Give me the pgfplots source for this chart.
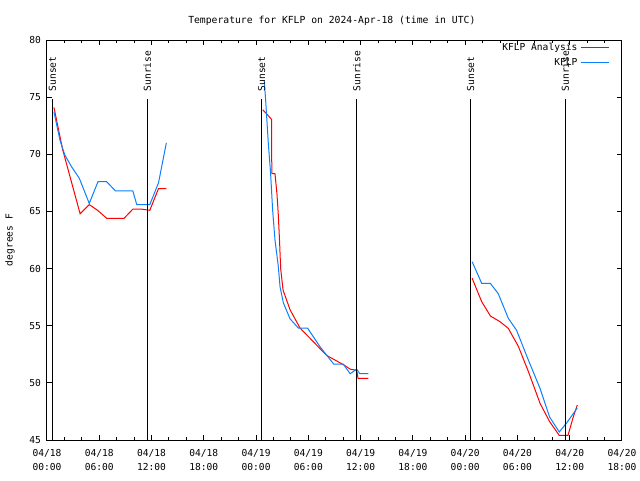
\documentclass[border=0pt]{standalone}
\usepackage{pgfplots}
\pgfplotsset{compat=1.18}
\usepackage{fontspec}
\setmainfont{DejaVu Sans Mono}
\definecolor{gred}{RGB}{255,0,0}
\definecolor{gblue}{RGB}{10,128,255}
\begin{document}
\begin{tikzpicture}
\useasboundingbox (0,0) rectangle (480pt,360pt);
\begin{axis}[
  at={(35.25pt,30pt)}, anchor=south west,
  scale only axis, width=431.25pt, height=300pt,
  xmin=0, xmax=66, ymin=45, ymax=80,
  font=\fontsize{7.2}{10.5}\selectfont,
  /pgf/number format/assume math mode=true,
  axis line style={line width=0.75pt},
  every tick/.style={black, line width=0.75pt},
  tick align=inside,
  major tick length=4pt, minor tick length=2.2pt,
  xtick={0,6,...,66},
  minor xtick={2,4,8,10,14,16,20,22,26,28,32,34,38,40,44,46,50,52,56,58,62,64},
  xticklabels={04/18\\00:00,04/18\\06:00,04/18\\12:00,04/18\\18:00,04/19\\00:00,04/19\\06:00,04/19\\12:00,04/19\\18:00,04/20\\00:00,04/20\\06:00,04/20\\12:00,04/20\\18:00},
  xticklabel style={align=center, font=\fontsize{7.2}{10.5}\selectfont, yshift=-3.5pt},
  ytick={45,50,...,80},
  yticklabel style={xshift=-1pt},
  title={Temperature for KFLP on 2024-Apr-18 (time in UTC)},
  title style={at={(0.5,1)}, anchor=south, yshift=1.5pt, xshift=-2pt, font=\fontsize{7.3}{10.5}\selectfont},
  ylabel={degrees F},
  every axis y label/.style={at={(rel axis cs:0,0.5)}, xshift=-27.75pt, rotate=90, anchor=center},
  unbounded coords=jump,
  legend style={at={(rel axis cs:0.978,1.0)}, anchor=north east, draw=none, fill=none,
    inner sep=0pt, row sep=0.5pt, font=\fontsize{7.2}{10.5}\selectfont},
  legend cell align=right,
  legend plot pos=right,
  legend image code/.code={\draw[#1] (0pt,0pt) -- (21pt,0pt);},
]
\addplot[gred, line width=0.75pt] coordinates {
(0.8,74.1) (1.8,70.4) (2.8,67.6) (3.8,64.8) (4.85,65.6) (5.8,65.1) (6.85,64.4) (7.85,64.4) (8.85,64.4) (9.85,65.2) (10.85,65.2) (11.8,65.1) (12.8,67.0) (13.7,67.0)
(14,nan)
(24.76,73.9) (25.79,73.05) (25.8,68.3) (26.17,68.3) (26.4,66.5) (26.55,64.7) (26.7,62.3) (26.82,60.0) (27.1,58.1) (27.9,56.4) (29.04,54.8) (30.38,53.75) (32.1,52.4) (34.0,51.6) (34.8,51.2) (35.55,51.1) (35.7,50.4) (36.9,50.4)
(37,nan)
(48.8,59.15) (49.9,57.1) (50.9,55.85) (52.0,55.35) (52.95,54.77) (54.1,53.2) (55.25,51.0) (56.6,48.2) (57.7,46.6) (58.8,45.4) (59.8,45.4) (60.4,47.0) (60.87,48.06)
};
\addlegendentry{KFLP Analysis}
\addplot[gblue, line width=0.75pt] coordinates {
(0.8,73.7) (1.5,71.2) (2.07,69.9) (2.83,68.9) (3.71,67.9) (4.85,65.7) (5.85,67.6) (6.85,67.6) (7.85,66.8) (8.85,66.8) (9.85,66.8) (10.3,65.6) (11.8,65.6) (12.8,67.5) (13.7,71.0)
(14,nan)
(24.95,76.3) (25.1,74.7) (25.4,71.0) (25.67,68.3) (25.9,65.1) (26.17,62.5) (26.55,60.2) (26.75,58.4) (27.13,57.0) (27.9,55.6) (28.85,54.8) (29.9,54.8) (31.3,53.2) (32.9,51.65) (34.0,51.65) (34.8,50.8) (35.55,51.2) (35.9,50.8) (36.9,50.8)
(37,nan)
(48.8,60.6) (49.9,58.7) (50.9,58.7) (51.8,57.8) (52.95,55.65) (53.9,54.6) (55.25,52.0) (56.6,49.5) (57.7,47.0) (58.8,45.7) (59.65,46.5) (60.87,47.8)
};
\addlegendentry{KFLP}
\addplot[black, line width=0.75pt, forget plot] coordinates {
(0.61,45) (0.61,74.8) (0.7,nan)
(11.52,45) (11.52,74.8) (11.6,nan)
(24.64,45) (24.64,74.8) (24.7,nan)
(35.55,45) (35.55,74.8) (35.6,nan)
(48.63,45) (48.63,74.8) (48.7,nan)
(59.5,45) (59.5,74.8)
};
\node[rotate=90, anchor=west, inner sep=0pt] at (axis cs:0.61,75.5) {Sunset};
\node[rotate=90, anchor=west, inner sep=0pt] at (axis cs:11.52,75.5) {Sunrise};
\node[rotate=90, anchor=west, inner sep=0pt] at (axis cs:24.64,75.5) {Sunset};
\node[rotate=90, anchor=west, inner sep=0pt] at (axis cs:35.55,75.5) {Sunrise};
\node[rotate=90, anchor=west, inner sep=0pt] at (axis cs:48.63,75.5) {Sunset};
\node[rotate=90, anchor=west, inner sep=0pt] at (axis cs:59.5,75.5) {Sunrise};
\end{axis}
\end{tikzpicture}
\end{document}
